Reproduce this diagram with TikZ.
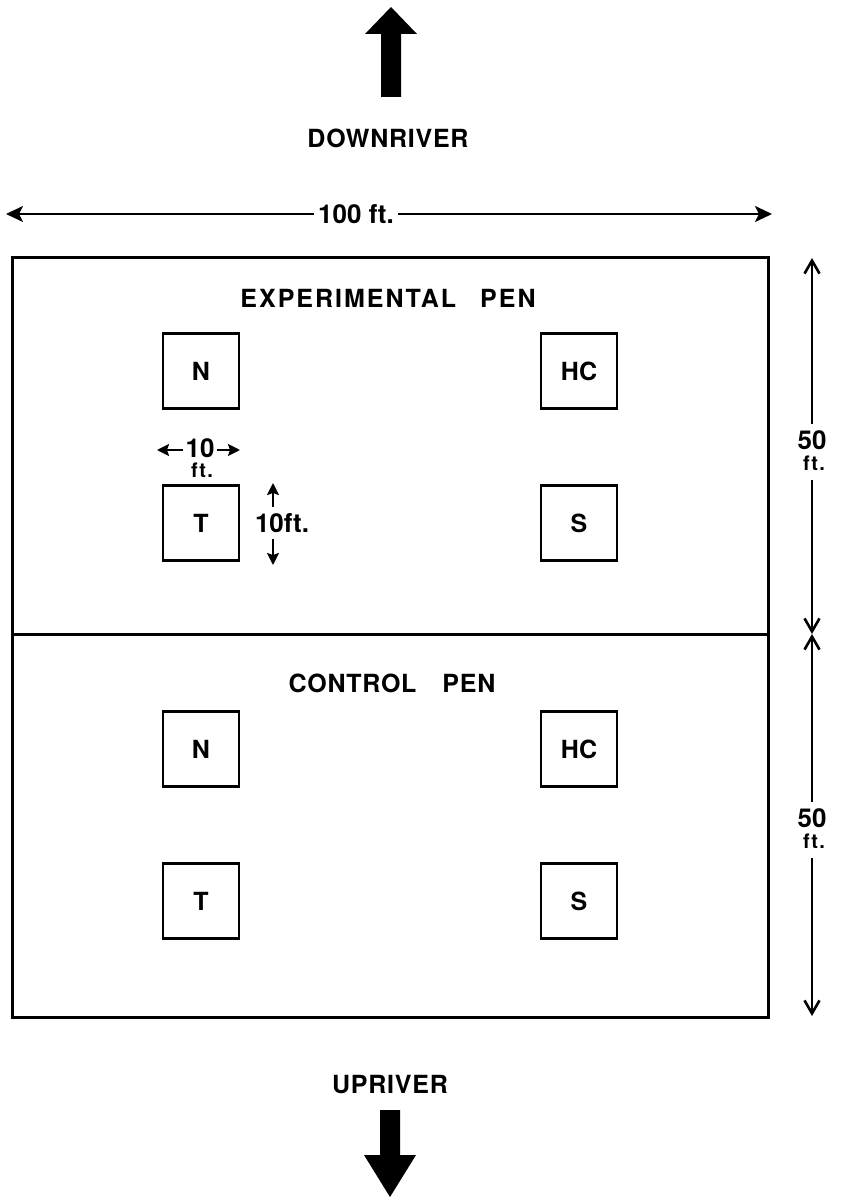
\documentclass[tikz,border=0pt]{standalone}
\usepackage{fontspec}
\setsansfont{TeX Gyre Heros}
\usetikzlibrary{arrows.meta}
\begin{document}
\begin{tikzpicture}[x=1pt,y=-1pt,
  lbl/.style={font=\sffamily\bfseries\fontsize{25}{25}\selectfont\addfontfeatures{LetterSpace=3}, inner sep=0pt},
  widelbl/.style={font=\sffamily\bfseries\fontsize{25}{25}\selectfont\addfontfeatures{LetterSpace=8}, inner sep=0pt},
  num/.style={font=\sffamily\bfseries\fontsize{26}{26}\selectfont, inner sep=0pt},
  small/.style={font=\sffamily\bfseries\fontsize{20}{20}\selectfont\addfontfeatures{LetterSpace=6}, inner sep=0pt},
  pen/.style={draw, line width=3pt},
  cell/.style={draw, line width=2.6pt, minimum width=76pt, minimum height=75pt, inner sep=0pt,
    font=\sffamily\bfseries\fontsize{25}{25}\selectfont},
  dim/.style={line width=2.2pt},
  barb/.style={-{Straight Barb[length=13pt,width=15pt,line width=2.6pt]}},
  bigtip/.style={-{Stealth[length=17pt,width=16pt,inset=4pt]}},
  smalltip/.style={-{Stealth[length=12pt,width=12pt,inset=2pt]}}
]
\useasboundingbox (0,0) rectangle (841,1198);
% top arrow
\fill (391,7) -- (417,34) -- (401,34) -- (401,97) -- (381,97) -- (381,34) -- (365,34) -- cycle;
\node[lbl] (down) at (388,138) {DOWNRIVER};
% 100 ft dimension
\node[num] (hundred) at (356,214) {100 ft.};
\coordinate (hl) at (6,214);
\coordinate (hr) at (772,214);
\draw[dim,bigtip] (hundred.west) ++(-4,0) -- (hl);
\draw[dim,bigtip] (hundred.east) ++(4,0) -- (hr);
% pens
\draw[pen] (12,257) rectangle (768,1017);
\draw[pen] (12,634) -- (768,634);
\node[widelbl] (exp) at (388,298) {EXPERIMENTAL\hspace{24pt}PEN};
\node[lbl] (ctl) at (392,683) {CONTROL\hspace{26pt}PEN};
% cells experimental
\node[cell] (eN) at (201,371) {N};
\node[cell] (eHC) at (579,371) {HC};
\node[cell] (eT) at (201,523) {T};
\node[cell] (eS) at (579,523) {S};
% cells control
\node[cell] (cN) at (201,749) {N};
\node[cell] (cHC) at (579,749) {HC};
\node[cell] (cT) at (201,901) {T};
\node[cell] (cS) at (579,901) {S};
% 10 ft horizontal
\node[num] (ten) at (200,448) {10};
\node[small] (tenft) at (202,470) {ft.};
\coordinate (tl) at (157,450);
\coordinate (tr) at (240,450);
\draw[dim,smalltip] (ten.west) ++(-2,2) -- (tl);
\draw[dim,smalltip] (ten.east) ++(2,2) -- (tr);
% 10 ft vertical
\node[num] (tenv) at (282,523) {10ft.};
\coordinate (vt) at (273,483);
\coordinate (vb) at (273,565);
\draw[dim,smalltip] (273,507) -- (vt);
\draw[dim,smalltip] (273,539) -- (vb);
% 50 ft upper
\node[num] (f1) at (812,440) {50};
\node[small] (f1ft) at (814,463) {ft.};
\coordinate (u1t) at (812,258);
\coordinate (u1b) at (812,634);
\draw[dim,barb] (812,424) -- (u1t);
\draw[dim,barb] (812,480) -- (u1b);
% 50 ft lower
\node[num] (f2) at (812,818) {50};
\node[small] (f2ft) at (814,841) {ft.};
\coordinate (u2t) at (812,634);
\coordinate (u2b) at (812,1016);
\draw[dim,barb] (812,802) -- (u2t);
\draw[dim,barb] (812,858) -- (u2b);
% bottom
\node[lbl] (up) at (390,1085) {UPRIVER};
\fill (390,1197) -- (416,1155) -- (400,1155) -- (400,1110) -- (380,1110) -- (380,1155) -- (364,1155) -- cycle;
\end{tikzpicture}
\end{document}
